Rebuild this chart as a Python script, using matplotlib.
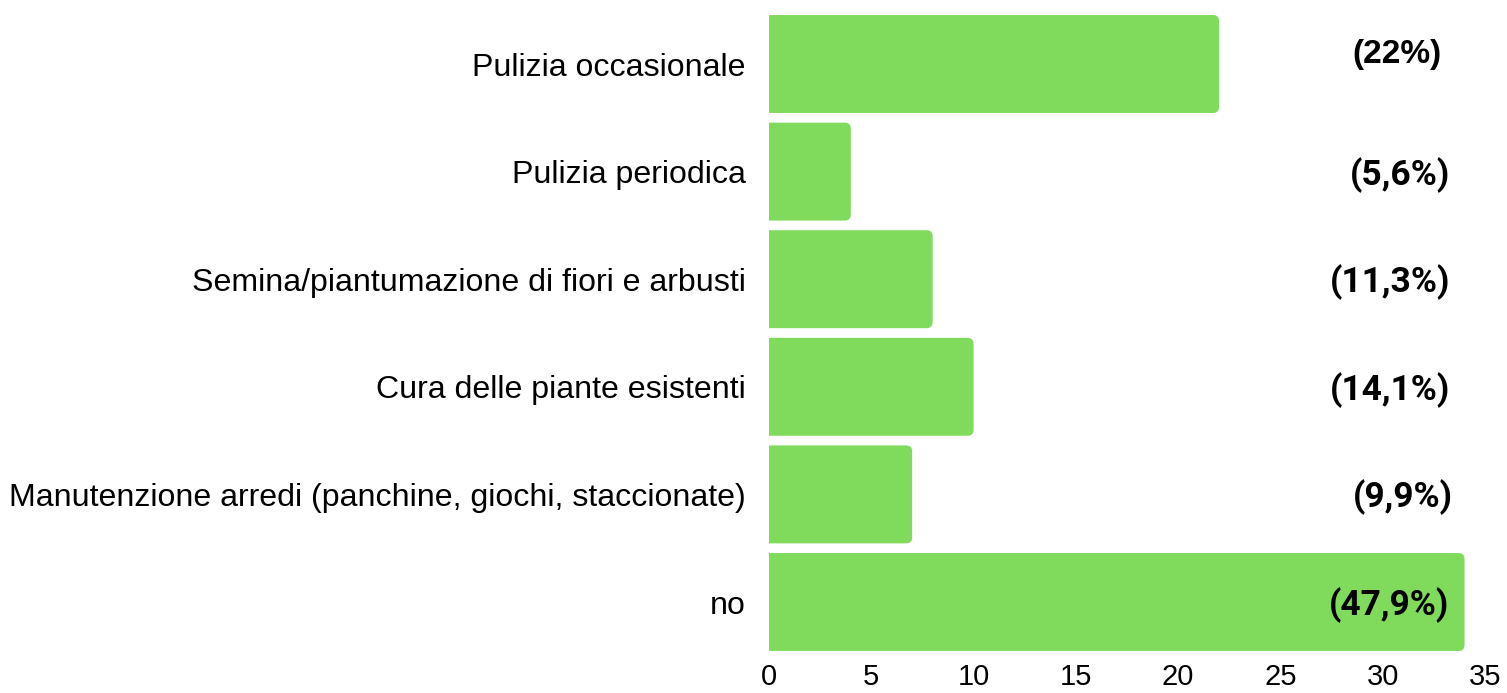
import matplotlib
matplotlib.use("Agg")
import matplotlib.pyplot as plt
from matplotlib.patches import FancyBboxPatch

categories = [
    "Pulizia occasionale",
    "Pulizia periodica",
    "Semina/piantumazione di fiori e arbusti",
    "Cura delle piante esistenti",
    "Manutenzione arredi (panchine, giochi, staccionate)",
    "no",
]
counts = [22, 4, 8, 10, 7, 34]
pct_labels = ["(22%)", "(5,6%)", "(11,3%)", "(14,1%)", "(9,9%)", "(47,9%)"]
xticks = [0, 5, 10, 15, 20, 25, 30, 35]

BAR_COLOR = "#80DA5C"
W, H, DPI = 1507, 693, 100

fig = plt.figure(figsize=(W / DPI, H / DPI), dpi=DPI)
ax = fig.add_axes([769 / W, 1 - 655.8 / H, (1485 - 769) / W, 645.6 / H])

xmax = 35
n = len(categories)
ax.set_xlim(0, xmax)
ax.set_ylim(n - 0.5, -0.5)

# pixel sizes of one data unit, used to keep the corner rounding circular
px_x = (1485 - 769) / xmax
px_y = 645.6 / n
radius_px = 6
rx = radius_px / px_x
ry = radius_px / px_y

bar_h = 0.91
for i, v in enumerate(counts):
    patch = FancyBboxPatch(
        (-1.0, i - bar_h / 2), v + 1.0, bar_h,
        boxstyle=f"round,pad=0,rounding_size={rx}",
        mutation_aspect=ry / rx,
        facecolor=BAR_COLOR, edgecolor="none", clip_on=True,
    )
    ax.add_patch(patch)

# percentage annotations on the right
ax.text(30.7, -0.09, pct_labels[0], ha="center", va="center",
        family=["Liberation Sans", "DejaVu Sans"], fontweight="bold",
        fontsize=24, color="black")
label_font = dict(family=["Roboto", "DejaVu Sans"], fontweight="bold",
                  fontsize=25.5, color="black", va="center")
for i, (lab, xr) in enumerate(zip(pct_labels[1:], [33.3, 33.3, 33.3, 33.45, 33.25]), start=1):
    ax.text(xr, i + 0.03, lab, ha="right", **label_font)

ax.set_yticks(range(n))
ax.set_yticklabels(categories, fontsize=23.1, family=["Liberation Sans", "DejaVu Sans"])
ax.set_xticks(xticks)
ax.set_xticklabels([str(t) for t in xticks], fontsize=21,
                   family=["Liberation Sans", "DejaVu Sans"])
ax.tick_params(axis="y", length=0, pad=17)
ax.tick_params(axis="x", length=0, pad=5)
for s in ax.spines.values():
    s.set_visible(False)

fig.savefig("out.png", dpi=DPI, facecolor="white")
